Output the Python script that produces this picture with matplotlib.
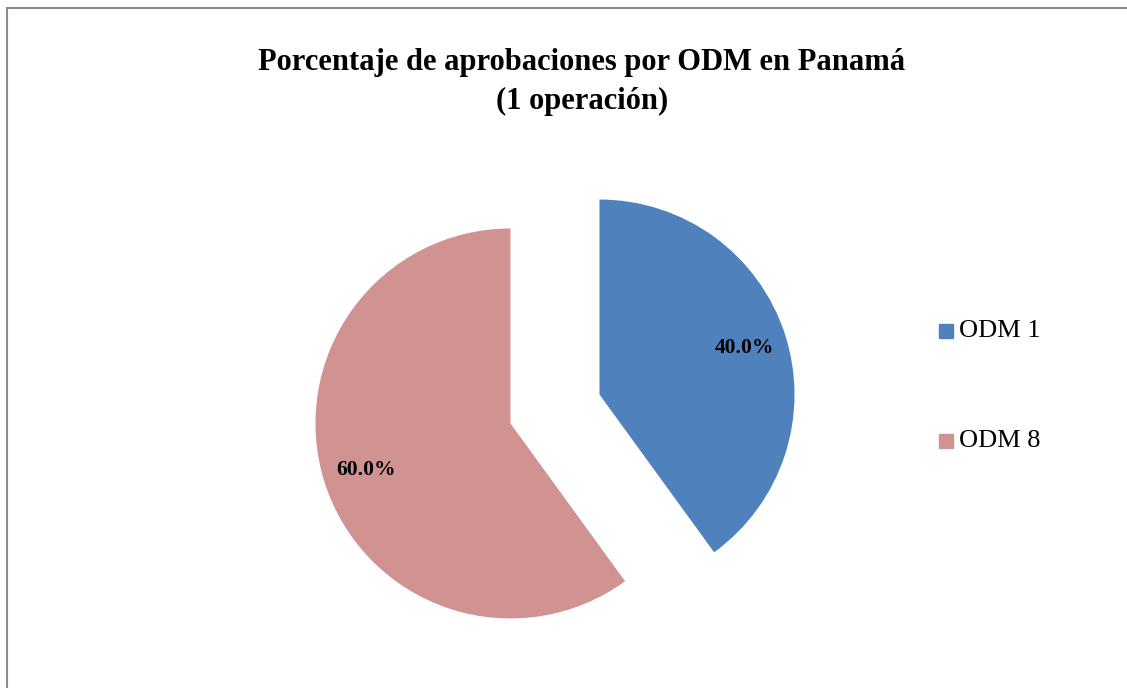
import matplotlib
matplotlib.use('Agg')
import matplotlib.pyplot as plt
from matplotlib.patches import Rectangle

labels = ['ODM 1', 'ODM 8']
values = [40.0, 60.0]
colors = ['#4F81BD', '#D19392']
title = 'Porcentaje de aprobaciones por ODM en Panamá\n(1 operación)'

W, H = 1127, 688
fig = plt.figure(figsize=(W / 100, H / 100), dpi=100)
plt.rcParams['font.family'] = ['Liberation Serif', 'DejaVu Serif']

# chart frame (grey border, open at the right/bottom of the image)
fig.patches.append(Rectangle((7 / W, -0.2), 1.2, 0.2 + (H - 8) / H, transform=fig.transFigure,
                             fill=False, edgecolor='#8c8c8c', linewidth=1.5))

# axes of 500x500 px centred on the pie centre
cx, cy, side = 555, 409, 500
ax = fig.add_axes([(cx - side / 2) / W, (H - cy - side / 2) / H, side / W, side / H])
lim = (side / 2) / 195
wedges, texts, autotexts = ax.pie(values, colors=colors, startangle=90, counterclock=False,
                                  explode=[0.24, 0.24], autopct='%.1f%%', pctdistance=0.78,
                                  wedgeprops=dict(linewidth=0))
for t in autotexts:
    t.set_fontsize(15.5)
    t.set_fontweight('bold')
ax.set_xlim(-lim, lim)
ax.set_ylim(-lim, lim)
ax.set_aspect('equal')
ax.axis('off')

fig.text(582 / W, 1 - 82 / H, title, ha='center', va='center', fontsize=22,
         fontweight='bold', linespacing=1.42)

# legend
for i, (lab, col) in enumerate(zip(labels, colors)):
    y = 331 + i * 110
    fig.patches.append(Rectangle((939 / W, 1 - (y + 7) / H), 14 / W, 14 / H,
                                 transform=fig.transFigure, color=col))
    fig.text(959 / W, 1 - y / H, lab, ha='left', va='center', fontsize=19)

plt.savefig('out.png', dpi=100)
